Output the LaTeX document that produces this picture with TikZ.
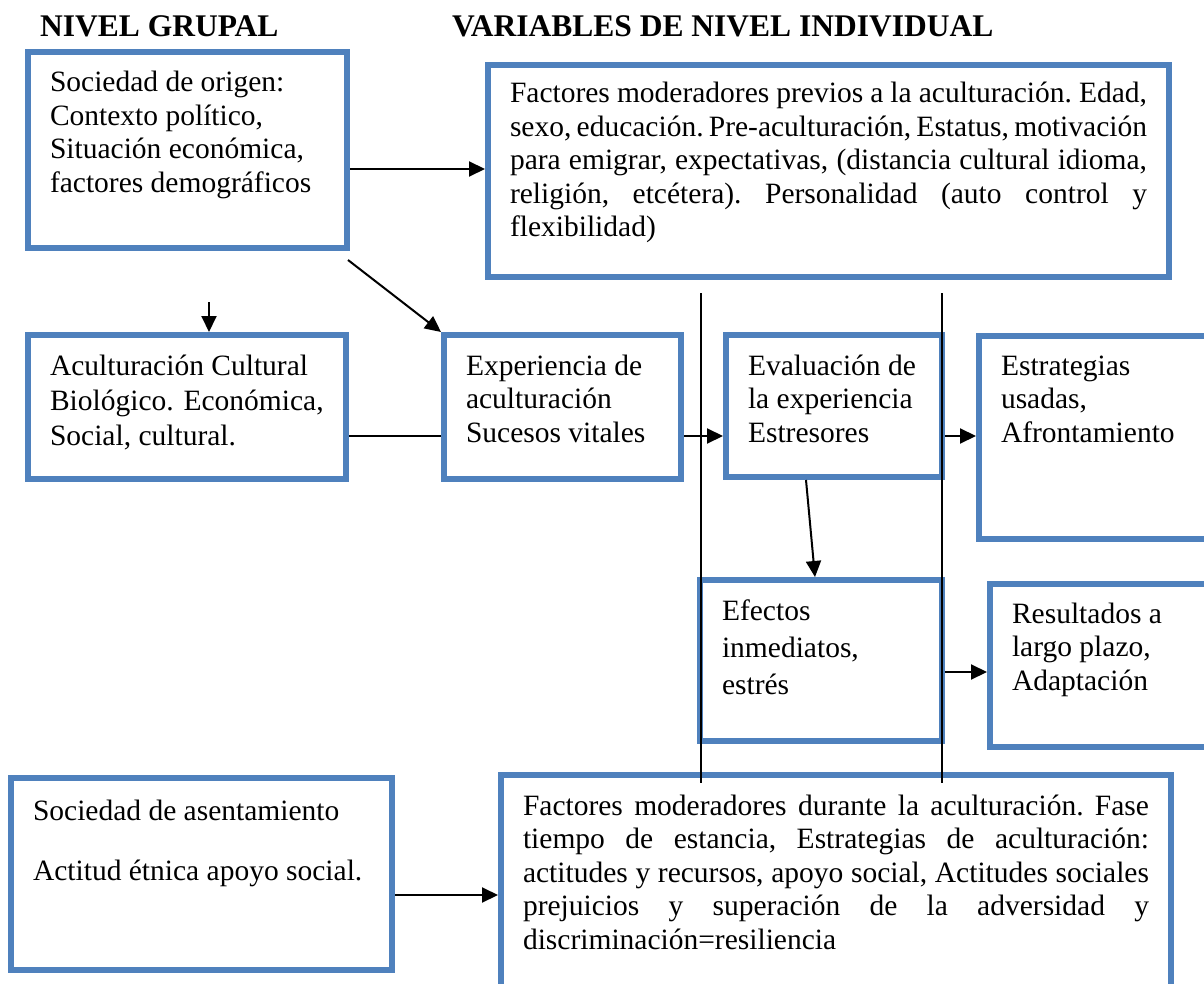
\documentclass[tikz,border=0pt]{standalone}
\usepackage{fontspec}
\setmainfont{Liberation Serif}
\usetikzlibrary{arrows.meta}

\definecolor{azul}{HTML}{4F81BD}
\newcommand{\cuerpo}{\fontsize{29.5pt}{33.5pt}\selectfont\frenchspacing}
\newcommand{\renglon}[1]{\makebox[\hsize][s]{#1}}

\begin{document}
\begin{tikzpicture}[
    x=1pt, y=-1pt,
    caja/.style={draw=azul, line width=6pt, outer sep=3pt, inner xsep=22pt, inner ysep=0pt, anchor=north west, align=justify, font=\cuerpo},
    titulo/.style={anchor=base west, inner sep=0pt, font=\bfseries\fontsize{31.5pt}{36pt}\selectfont},
    flecha/.style={-{Triangle[length=16pt,width=15pt]}, line width=2pt, draw=black},
    linea/.style={line width=1.8pt, draw=black}
]
\useasboundingbox (0,0) rectangle (1204,984);
\clip (0,0) rectangle (1204,984);

% Titulos
\node[titulo] (tgrupal) at (40,37) {NIVEL GRUPAL};
\node[titulo] (tindividual) at (452,37) {VARIABLES DE NIVEL INDIVIDUAL};

% Cajas
\node[caja, text width=275pt, text height=40pt, text depth=156pt] (origen) at (25,49)
    {Sociedad de origen:\\Contexto político,\\Situación económica,\\factores demográficos};
\node[caja, text width=637pt, text height=38pt, text depth=174pt] (previos) at (485,62)
    {\renglon{Factores moderadores previos a la aculturación. Edad,}\\
     \renglon{sexo, educación. Pre-aculturación, Estatus, motivación}\\
     \renglon{para emigrar, expectativas, (distancia cultural idioma,}\\
     \renglon{religión, etcétera). Personalidad (auto control y}\\
     flexibilidad)};
\node[caja, text width=274pt, text height=40pt, text depth=104pt, font=\fontsize{29.5pt}{35pt}\selectfont] (aculturacion) at (25,332)
    {Aculturación Cultural\\Biológico. Económica,\\Social, cultural.};
\node[caja, text width=193pt, text height=40pt, text depth=104pt] (experiencia) at (441,332)
    {Experiencia de\\aculturación\\Sucesos vitales};
\node[caja, text width=172pt, text height=40pt, text depth=102pt] (evaluacion) at (723,332)
    {Evaluación de\\la experiencia\\Estresores};
\node[caja, text width=184pt, text height=39pt, text depth=164pt] (estrategias) at (976,333)
    {Estrategias\\usadas,\\Afrontamiento};
\node[caja, text width=198pt, text height=40pt, text depth=121pt, font=\fontsize{29.5pt}{37pt}\selectfont] (efectos) at (697,577)
    {Efectos\\inmediatos,\\estrés};
\node[caja, text width=173pt, text height=39pt, text depth=124pt] (resultados) at (987,581)
    {Resultados a\\largo plazo,\\Adaptación};
\node[caja, text width=337pt, text height=42pt, text depth=150pt] (asentamiento) at (8,775)
    {Sociedad de asentamiento\\[26.5pt]Actitud étnica apoyo social.};
\node[caja, text width=626pt, text height=40pt, text depth=192pt] (durante) at (498,772)
    {\renglon{Factores moderadores durante la aculturación. Fase}\\
     \renglon{tiempo de estancia, Estrategias de aculturación:}\\
     \renglon{actitudes y recursos, apoyo social, Actitudes sociales}\\
     \renglon{prejuicios y superación de la adversidad y}\\
     discriminación=resiliencia};

% Lineas verticales
\coordinate (izqarriba) at (701,293);
\coordinate (izqabajo) at (701,783);
\coordinate (derarriba) at (942,293);
\coordinate (derabajo) at (942,783);
\draw[linea] (izqarriba) -- (izqabajo);
\draw[linea] (derarriba) -- (derabajo);

% Conexiones
\coordinate (entrada) at (209,302);
\draw[flecha] ([yshift=-19pt]origen.east) -- ([yshift=-19pt]origen.east -| previos.west);
\draw[flecha] (entrada) -- (entrada |- aculturacion.north);
\draw[flecha] ([xshift=-2pt,yshift=-9pt]origen.south east) -- (experiencia.north west);
\draw[linea, line width=2pt] ([yshift=-29pt]aculturacion.east) -- ([yshift=-29pt]aculturacion.east -| experiencia.west);
\draw[flecha] ([yshift=-29pt]experiencia.east) -- ([yshift=-29pt]experiencia.east -| evaluacion.west);
\draw[flecha] ([yshift=-30pt]evaluacion.east) -- ([yshift=-30pt]evaluacion.east -| estrategias.west);
\draw[flecha] ([xshift=-28pt]evaluacion.south) -- ([xshift=-6pt]efectos.north);
\draw[flecha] ([yshift=-11.5pt]efectos.east) -- ([yshift=-11.5pt]efectos.east -| resultados.west);
\draw[flecha] ([yshift=-21pt]asentamiento.east) -- ([yshift=-21pt]asentamiento.east -| durante.west);

\end{tikzpicture}
\end{document}
